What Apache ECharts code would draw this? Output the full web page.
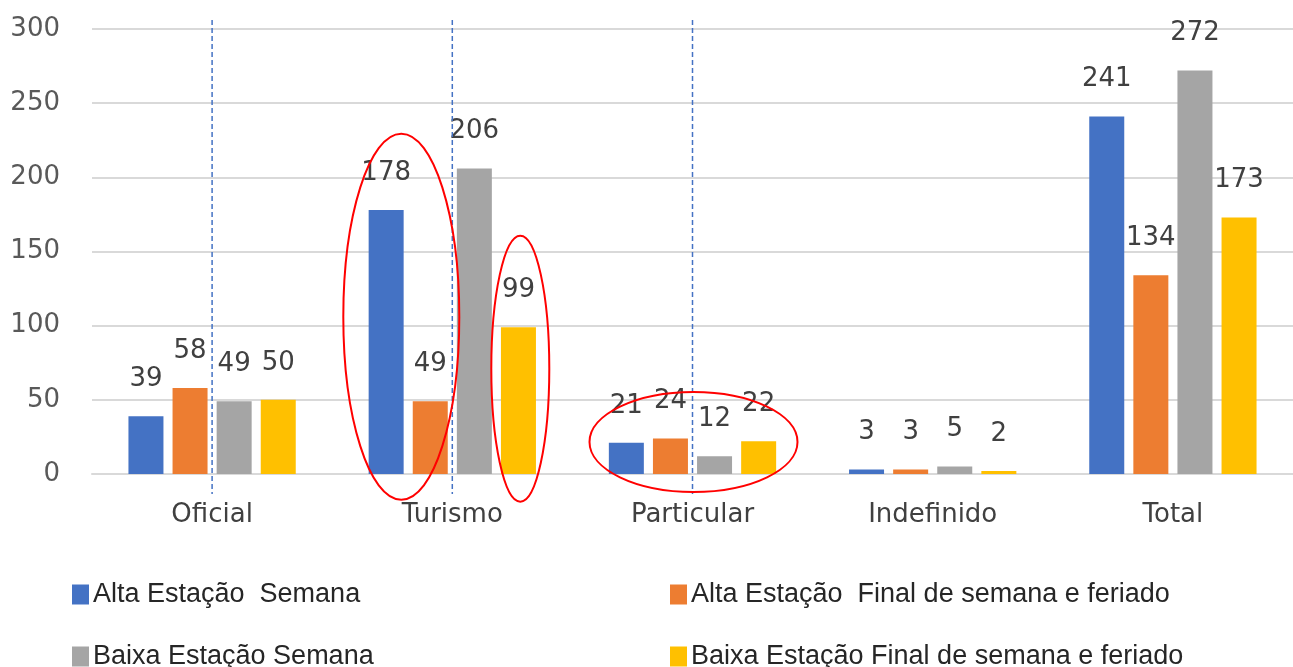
<!DOCTYPE html>
<html>
<head>
<meta charset="utf-8">
<script src="https://cdn.jsdelivr.net/npm/echarts@6/dist/echarts.min.js"></script>
<style>
  html, body { margin: 0; padding: 0; background: #fff; }
  #chart { width: 1293px; height: 667px; }
</style>
</head>
<body>
<div id="chart"></div>
<script>
const categories = ['Oficial', 'Turismo', 'Particular', 'Indefinido', 'Total']
const seriesNames = [
  'Alta Estação  Semana',
  'Alta Estação  Final de semana e feriado',
  'Baixa Estação Semana',
  'Baixa Estação Final de semana e feriado',
]
const altaSemana = [39, 178, 21, 3, 241]
const altaFinal = [58, 49, 24, 3, 134]
const baixaSemana = [49, 206, 12, 5, 272]
const baixaFinal = [50, 99, 22, 2, 173]
const colors = ['#4472C4', '#ED7D31', '#A5A5A5', '#FFC000']
const yTicks = [0, 300, 50] // min, max, interval

// annotations: dashed guides at these categories, red ellipses around groups
const guideCategories = ['Oficial', 'Turismo', 'Particular']
const ellipses = [
  { cat: 'Turismo', dx: -51, value: 106, rx: 58, ry: 183 },
  { cat: 'Turismo', dx: 68, value: 71, rx: 29, ry: 133 },
  { cat: 'Particular', dx: 1, value: 21.6, rx: 104, ry: 50 },
]

const font = 'DejaVu Sans'
const chart = echarts.init(document.getElementById('chart'))

const makeSeries = (name, data, i) => ({
  name,
  type: 'bar',
  data,
  barWidth: 35,
  barGap: '26%',
  itemStyle: { color: colors[i] },
  label: {
    show: true,
    position: 'top',
    distance: 24,
    color: '#404040',
    fontSize: 26,
    fontFamily: font,
  },
})

// legend: two columns, two rows
const legendPos = [
  [72, 581],
  [670, 581],
  [72, 643],
  [670, 643],
]
const makeLegend = (name, i) => ({
  data: [name],
  left: legendPos[i][0],
  top: legendPos[i][1],
  padding: 0,
  icon: 'rect',
  itemWidth: 17,
  itemHeight: 20,
  textStyle: {
    color: '#262626',
    fontSize: 27,
    fontFamily: 'Liberation Sans',
    padding: [0, 0, 0, -1],
  },
})

const option = {
  animation: false,
  backgroundColor: '#fff',
  grid: { left: 92, right: 0, top: 29, bottom: 193, containLabel: false },
  xAxis: {
    type: 'category',
    data: categories,
    axisTick: { show: false },
    axisLine: { lineStyle: { color: '#d9d9d9', width: 2 } },
    axisLabel: { color: '#404040', fontSize: 26, fontFamily: font, margin: 28 },
  },
  yAxis: {
    type: 'value',
    min: yTicks[0],
    max: yTicks[1],
    interval: yTicks[2],
    axisLine: { show: false },
    axisTick: { show: false },
    splitLine: { lineStyle: { color: '#d9d9d9', width: 2 } },
    axisLabel: { color: '#595959', fontSize: 26, fontFamily: font, margin: 32 },
  },
  legend: [
    makeLegend(seriesNames[0], 0),
    makeLegend(seriesNames[1], 1),
    makeLegend(seriesNames[2], 2),
    makeLegend(seriesNames[3], 3),
  ],
  series: [
    makeSeries(seriesNames[0], altaSemana, 0),
    makeSeries(seriesNames[1], altaFinal, 1),
    makeSeries(seriesNames[2], baixaSemana, 2),
    makeSeries(seriesNames[3], baixaFinal, 3),
  ],
}

chart.setOption(option)

// annotations placed from the axes
const yTop = chart.convertToPixel({ yAxisIndex: 0 }, yTicks[1])
const yBottom = chart.convertToPixel({ yAxisIndex: 0 }, yTicks[0])
const graphic = []
guideCategories.forEach((cat) => {
  const x = chart.convertToPixel({ xAxisIndex: 0 }, cat)
  graphic.push({
    type: 'line',
    shape: { x1: x, y1: yTop - 9, x2: x, y2: yBottom + 20 },
    style: { stroke: '#4472C4', lineWidth: 1.5, lineDash: [5, 3] },
    z: 10,
  })
})
ellipses.forEach((e) => {
  const cx = chart.convertToPixel({ xAxisIndex: 0 }, e.cat) + e.dx
  const cy = chart.convertToPixel({ yAxisIndex: 0 }, e.value)
  graphic.push({
    type: 'ellipse',
    shape: { cx, cy, rx: e.rx, ry: e.ry },
    style: { fill: 'none', stroke: '#FF0000', lineWidth: 2 },
    z: 10,
  })
})
chart.setOption({ graphic })
</script>
</body>
</html>
